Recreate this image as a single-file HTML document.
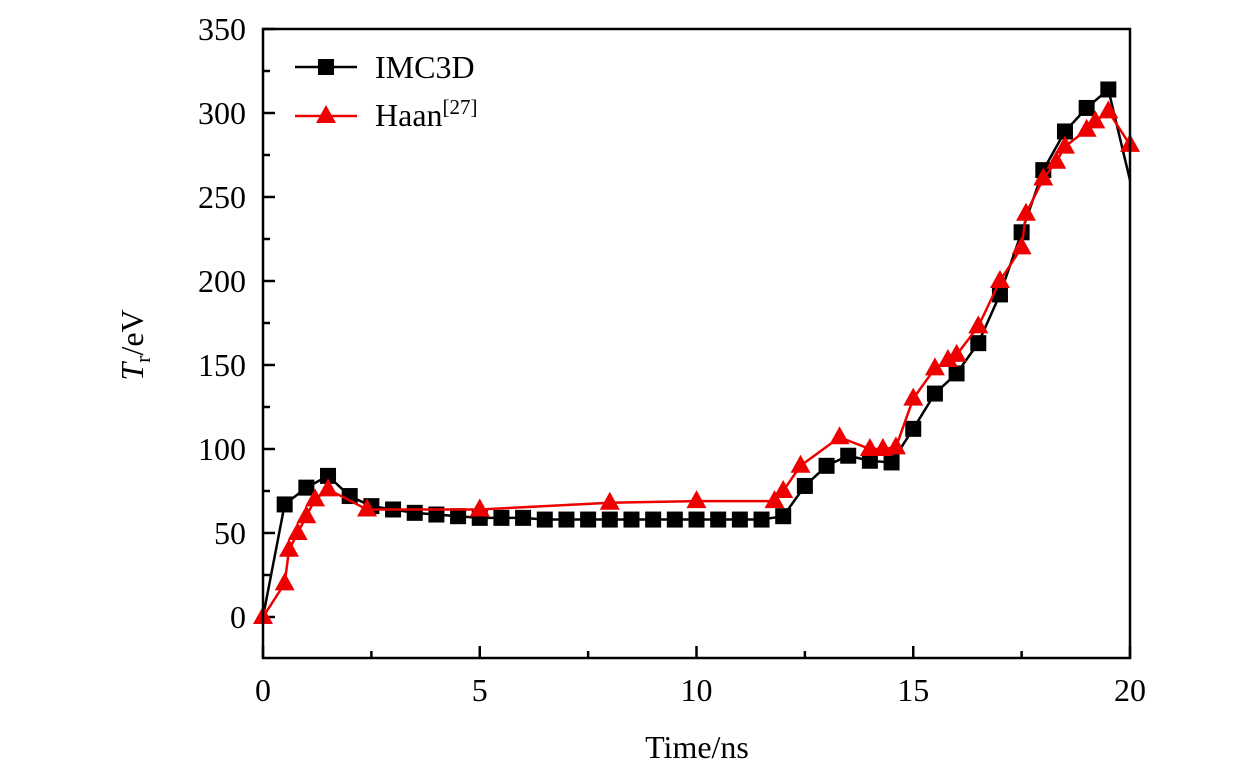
<!DOCTYPE html>
<html><head><meta charset="utf-8"><style>
body{margin:0;background:#fff}
svg{display:block;font-family:"Liberation Serif",serif}
</style></head><body>
<svg id="chart" width="1260" height="780" viewBox="0 0 1260 780" xmlns="http://www.w3.org/2000/svg">
<g id="ticks"></g>
<g id="series"></g>
<rect x="263" y="29" width="867" height="629" fill="none" stroke="#000" stroke-width="2.5"/>
<text x="697" y="758" font-size="32" text-anchor="middle">Time/ns</text>
<text transform="translate(143,345) rotate(-90)" font-size="32" text-anchor="middle"><tspan font-style="italic">T</tspan><tspan font-size="22" dy="7">r</tspan><tspan dy="-7">/eV</tspan></text>
<g>
<line x1="295" y1="67" x2="357" y2="67" stroke="#000" stroke-width="2.5"/>
<rect x="318" y="59" width="16" height="16" fill="#000"/>
<text x="375" y="78" font-size="32">IMC3D</text>
<line x1="295" y1="116" x2="357" y2="116" stroke="#e00" stroke-width="2.5"/>
<polygon points="326,105 336,123 316,123" fill="#e00"/>
<text x="375" y="126" font-size="32">Haan<tspan font-size="21" dy="-12">[27]</tspan></text>
</g>
</svg>
<script>
const xTicks=[0,5,10,15,20];
const yTicks=[0,50,100,150,200,250,300,350];
const imcX=[0,0.5,1,1.5,2,2.5,3,3.5,4,4.5,5,5.5,6,6.5,7,7.5,8,8.5,9,9.5,10,10.5,11,11.5,12,12.5,13,13.5,14,14.5,15,15.5,16,16.5,17,17.5,18,18.5,19,19.5,20];
const imcY=[0,67,77,84,72,66,64,62,61,60,59,59,59,58,58,58,58,58,58,58,58,58,58,58,60,78,90,96,93,92,112,133,145,163,192,229,266,289,303,314,260];
const haanX=[0,0.5,0.6,0.8,1,1.2,1.5,2.4,5,8,10,11.8,12,12.4,13.3,14,14.3,14.6,15,15.5,15.8,16,16.5,17,17.5,17.6,18,18.3,18.5,19,19.2,19.5,20];
const haanY=[0,20,40,50,60,70,76,64,64,68,69,69,75,90,107,100,100,101,130,148,153,156,173,200,220,240,261,271,280,290,295,301,281];
const NS="http://www.w3.org/2000/svg";
const sx=v=>263+v*(1130-263)/20;
const sy=v=>617-v*(617-29)/350;
function mk(tag,attrs,parent){const e=document.createElementNS(NS,tag);for(const k in attrs)e.setAttribute(k,attrs[k]);parent.appendChild(e);return e;}
const tg=document.getElementById('ticks');
xTicks.forEach(t=>{
 const l=mk('line',{x1:sx(t),x2:sx(t),y1:658,y2:646,stroke:'#000','stroke-width':2.5},tg);
 
 
 const tx=mk('text',{x:sx(t),y:701,'font-size':32,'text-anchor':'middle'},tg);tx.textContent=t;
 
 
});
for(let t=2.5;t<20;t+=5){const l=mk('line',{x1:sx(t),x2:sx(t),y1:658,y2:651,stroke:'#000','stroke-width':2.5},tg);
 
 }
yTicks.forEach(t=>{
 const l=mk('line',{x1:263,x2:275,y1:sy(t),y2:sy(t),stroke:'#000','stroke-width':2.5},tg);
 
 
 const tx=mk('text',{x:246,y:sy(t)+11,'font-size':32,'text-anchor':'end'},tg);tx.textContent=t;
 
 
});
for(let t=25;t<350;t+=50){const l=mk('line',{x1:263,x2:270,y1:sy(t),y2:sy(t),stroke:'#000','stroke-width':2.5},tg);
 
 }
const sg=document.getElementById('series');
const p1=mk('polyline',{points:imcX.map((x,i)=>sx(x)+','+sy(imcY[i])).join(' '),fill:'none',stroke:'#000','stroke-width':2.5},sg);


imcX.forEach((x,i)=>{if(i===0||x>=20)return;const r=mk('rect',{x:sx(x)-8,y:sy(imcY[i])-8,width:16,height:16,fill:'#000'},sg);
 
 });
const p2=mk('polyline',{points:haanX.map((x,i)=>sx(x)+','+sy(haanY[i])).join(' '),fill:'none',stroke:'#e00','stroke-width':2.5},sg);


haanX.forEach((x,i)=>{const cx=sx(x),cy=sy(haanY[i]);const p=mk('polygon',{points:`${cx},${cy-11} ${cx+10},${cy+7} ${cx-10},${cy+7}`,fill:'#e00'},sg);
 
 });
</script>
</body></html>
